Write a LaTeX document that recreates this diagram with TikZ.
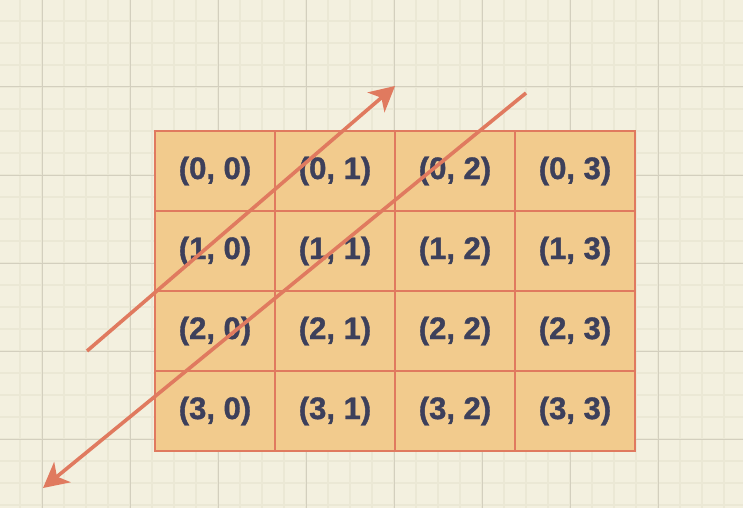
\documentclass[tikz,border=0pt]{standalone}
\usepackage{fontspec}
\setmainfont{Liberation Sans}
\newfontfamily\cellfont[FakeBold=1.2]{Liberation Sans Bold}
\usetikzlibrary{arrows.meta}
\definecolor{bgc}{HTML}{F3F0DF}
\definecolor{minorc}{HTML}{EBE8D5}
\definecolor{majorc}{HTML}{D3CFBE}
\definecolor{cellc}{HTML}{F2CB8D}
\definecolor{linec}{HTML}{E07A5F}
\definecolor{textc}{HTML}{3D405B}
\tikzset{
  cellbox/.style={draw=linec, fill=cellc, line width=2pt, minimum width=120pt, minimum height=80pt, inner sep=0pt, text=textc, font=\cellfont\fontsize{31}{32}\selectfont},
  diagarrow/.style={draw=linec, line width=3.6pt, -{Stealth[length=25pt, width=26pt, inset=7pt]}}
}
\begin{document}
\begin{tikzpicture}[x=1pt, y=-1pt]
\useasboundingbox (0,0) rectangle (743,508);
\fill[bgc] (0,0) rectangle (743,508);
\foreach \i in {0,...,34} {
  \draw[minorc, line width=1.5pt] ({-2+22*\i},0) -- ({-2+22*\i},508);
}
\foreach \j in {0,...,23} {
  \draw[minorc, line width=1.5pt] (0,{-1+22*\j}) -- (743,{-1+22*\j});
}
\foreach \i in {0,...,8} {
  \draw[majorc, line width=1pt] ({42+88*\i},0) -- ({42+88*\i},508);
}
\foreach \j in {0,...,6} {
  \draw[majorc, line width=1pt] (0,{-1+88*\j}) -- (743,{-1+88*\j});
}
\foreach \r in {0,...,3} {
  \foreach \c in {0,...,3} {
    \node[cellbox] (c\r\c) at ({215+120*\c},{171+80*\r}) {(\r, \c)};
  }
}
\coordinate (a1s) at (87,351);
\coordinate (a1e) at (395,86);
\coordinate (a2s) at (526,93);
\coordinate (a2e) at (43,488);
\draw[diagarrow] (a1s) -- (a1e);
\draw[diagarrow] (a2s) -- (a2e);
\end{tikzpicture}
\end{document}
